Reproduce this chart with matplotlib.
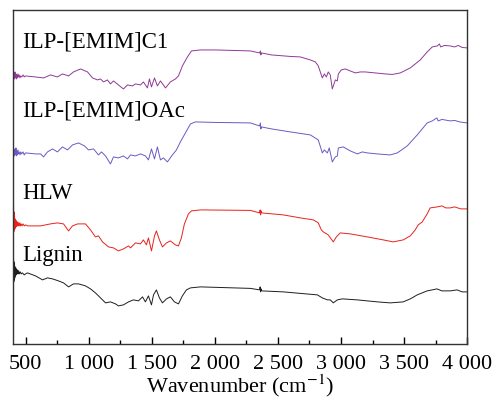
import numpy as np
import matplotlib
matplotlib.use('Agg')
import matplotlib.pyplot as plt
from matplotlib.ticker import MultipleLocator, FuncFormatter

plt.rcParams['font.family'] = ['Liberation Serif', 'DejaVu Serif']
plt.rcParams['mathtext.fontset'] = 'stix'

# Spectres (nombre d'onde en cm-1, transmittance en u.a.)
wn_c1 = [405, 408, 412, 416, 420, 424, 428, 432, 436, 440, 445, 450, 456, 462, 470, 480, 490, 500,
         579, 643, 698, 753, 793, 841, 880, 936, 991, 1031, 1070, 1094, 1118, 1149, 1173, 1197, 1236,
         1276, 1308, 1347, 1371, 1411, 1434, 1466, 1482, 1498, 1522, 1545, 1569, 1609, 1648, 1688,
         1712, 1743, 1783, 1815, 1886, 2000, 2150, 2282, 2355, 2361, 2365, 2369, 2450, 2599, 2678,
         2757, 2797, 2820, 2836, 2852, 2868, 2884, 2899, 2915, 2931, 2947, 2955, 2971, 2979, 3002,
         3034, 3074, 3113, 3153, 3192, 3272, 3351, 3406, 3470, 3549, 3628, 3683, 3723, 3763, 3780,
         3790, 3820, 3866, 3900, 3930, 3960, 4000]
t_c1 = [268, 271, 265, 272, 266, 270, 265, 269, 266, 270, 267, 269, 266, 268, 267, 269, 267, 268,
        267, 266, 269, 267, 270, 268, 272, 275, 272, 266, 264, 265, 262, 264, 260, 263, 259,
        255, 259, 258, 260, 259, 262, 256, 265, 257, 266, 258, 263, 256, 262, 265,
        268, 278, 287, 293, 294, 294, 293.5, 293, 291, 293, 289, 291, 289, 287.5, 287,
        284, 282, 278, 272, 266, 270, 267, 272, 269, 255, 261, 264, 263, 270, 274,
        275, 273, 271, 272, 272, 271, 270, 269.5, 271, 276, 284, 292, 297, 298, 300,
        297, 298.5, 298, 297, 298.5, 296.5, 296]

wn_oac = [405, 408, 412, 416, 420, 424, 428, 432, 436, 440, 445, 450, 456, 462, 470, 480, 490, 500,
          579, 619, 643, 674, 714, 753, 793, 833, 872, 920, 967, 999, 1039, 1078, 1102, 1134, 1173,
          1197, 1236, 1276, 1308, 1332, 1371, 1411, 1450, 1474, 1498, 1522, 1545, 1569, 1593, 1624,
          1664, 1696, 1727, 1767, 1807, 1846, 2000, 2282, 2355, 2361, 2365, 2369, 2450, 2599, 2757,
          2820, 2852, 2868, 2892, 2907, 2931, 2955, 2971, 2979, 3018, 3074, 3129, 3169, 3208, 3288,
          3390, 3446, 3525, 3604, 3683, 3723, 3760, 3770, 3800, 3866, 3900, 3940, 4000]
t_oac = [192, 195, 188, 194, 189, 196, 188, 193, 189, 194, 190, 192, 189, 192, 190, 192, 189, 191,
         190, 190, 187, 192, 195, 192, 197, 194, 199, 201, 198, 194, 195, 189, 192, 188, 180,
         187, 186, 188, 185, 189, 188, 190, 188, 184, 195, 185, 197, 184, 186, 182,
         189, 194, 202, 211, 220, 222, 221.5, 221, 218, 221, 215, 217, 215, 212, 209,
         204, 191, 194, 191, 196, 182, 187, 188, 196, 197, 193, 190, 192, 191, 190,
         189, 191, 198, 209, 221, 223, 226, 223, 224.5, 223, 223.5, 222, 221]

wn_hlw = [405, 407, 409, 411, 413, 415, 417, 420, 423, 426, 430, 434, 438, 442, 446, 450, 455, 460,
          466, 472, 480, 490, 500, 516, 540, 619, 698, 753, 801, 841, 872, 912, 975, 1015, 1054, 1078,
          1110, 1157, 1197, 1236, 1276, 1316, 1332, 1371, 1411, 1434, 1458, 1474, 1498, 1522, 1537,
          1561, 1585, 1617, 1648, 1688, 1712, 1735, 1759, 1791, 1815, 1886, 2282, 2355, 2359, 2363,
          2367, 2371, 2543, 2678, 2781, 2820, 2844, 2860, 2899, 2939, 2963, 2994, 3074, 3208, 3335,
          3414, 3493, 3549, 3588, 3612, 3644, 3683, 3707, 3763, 3800, 3830, 3866, 3900, 3950, 4000]
t_hlw = [139, 112, 132, 114, 128, 115, 125, 116, 124, 117, 122, 118, 122, 118, 121, 118, 121, 118,
         120, 118, 120, 118, 119, 118, 118, 118, 120, 121, 120, 113, 118, 120, 120, 114, 107, 108,
         102, 97, 96, 93, 95, 98, 96, 101, 100, 104, 99, 106, 93, 108, 113,
         104, 97, 101, 103, 99, 98, 106, 120, 130, 133, 134, 133.5, 131, 134, 129,
         133, 131, 129, 126, 124, 121, 114, 112, 109, 102, 107, 111, 110, 107, 104,
         102, 104, 108, 114, 119, 122, 130, 136, 137, 138, 136, 136, 137, 135, 135]

wn_lig = [405, 407, 409, 411, 413, 415, 417, 420, 423, 426, 430, 434, 438, 442, 446, 452, 458, 466,
          475, 490, 500, 516, 579, 635, 674, 714, 761, 801, 841, 880, 920, 975, 1015, 1054, 1094,
          1134, 1173, 1213, 1236, 1276, 1316, 1355, 1395, 1427, 1450, 1474, 1498, 1514, 1537, 1561,
          1585, 1617, 1648, 1680, 1712, 1743, 1775, 1807, 1886, 2282, 2355, 2359, 2363, 2367, 2371,
          2543, 2813, 2852, 2892, 2915, 2939, 2971, 3010, 3129, 3288, 3390, 3493, 3549, 3604, 3683,
          3723, 3760, 3800, 3866, 3920, 3960, 4000]
t_lig = [86, 62, 82, 64, 79, 66, 77, 68, 76, 69, 74, 70, 74, 70, 73, 70, 72, 70,
         71, 69, 70, 71, 68, 64, 66, 65, 63, 61, 57, 60, 60, 58, 55, 51, 46,
         41, 42, 40, 38, 39, 42, 44, 43, 47, 42, 48, 39, 49, 54, 46,
         41, 45, 47, 42, 40, 48, 54, 56, 57, 55.5, 54, 57, 52, 55, 53,
         52, 49, 46, 44, 44, 41, 44, 45, 44, 42, 41, 42, 45, 49, 53,
         54, 55, 53, 53, 54, 52, 52]

noms = ['ILP-[EMIM]C1', 'ILP-[EMIM]OAc', 'HLW', 'Lignin']
couleurs = ['#8E3A96', '#6A5BC2', '#E8221C', '#1E1E1E']
base_labels = [296, 227, 145, 83]

fig, ax = plt.subplots(figsize=(4.97, 3.98), dpi=100)
fig.subplots_adjust(left=0.026, right=0.94, bottom=0.136, top=0.975)

series = [(wn_c1, t_c1), (wn_oac, t_oac), (wn_hlw, t_hlw), (wn_lig, t_lig)]
for (wn, t), c in zip(series, couleurs):
    ax.plot(wn, t, color=c, lw=0.7, solid_joinstyle='round')

for nom, yb in zip(noms, base_labels):
    ax.text(474, yb, nom, fontsize=16.5, va='baseline', ha='left')

ax.set_xlim(400, 4000)
ax.set_ylim(0, 334)
ax.xaxis.set_major_locator(MultipleLocator(500))
ax.xaxis.set_minor_locator(MultipleLocator(250))
ax.xaxis.set_major_formatter(FuncFormatter(lambda v, p: f'{int(v):,}'.replace(',', ' ')))
ax.tick_params(axis='x', which='major', direction='in', length=5, width=1, labelsize=16, pad=8)
ax.tick_params(axis='x', which='minor', direction='in', length=3, width=1)
ax.set_yticks([])
for s in ax.spines.values():
    s.set_color('#333333')
    s.set_linewidth(1)
ax.set_xlabel(r'Wavenumber (cm$^{-1}$)', fontsize=16, labelpad=-1)

plt.savefig('out.png', dpi=100)
